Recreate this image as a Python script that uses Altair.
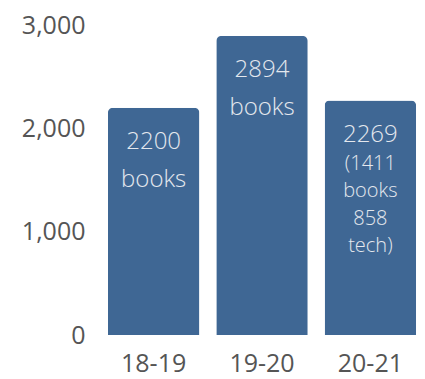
import altair as alt
import pandas as pd

years = ["18-19", "19-20", "20-21"]
totals = [2200, 2894, 2269]
first_lines = ["2200", "2894", "2269"]
second_lines = ["books", "books", ""]
detail_lines = ["", "", "(1411\nbooks\n858\ntech)"]

df = pd.DataFrame({
    "year": years,
    "total": totals,
    "first": first_lines,
    "second": second_lines,
    "detail": detail_lines,
})

BAR = "#3f6794"
TXT = "#e4e8ee"
FONT = "Open Sans"

x_enc = alt.X(
    "year:N",
    sort=years,
    title=None,
    scale=alt.Scale(paddingInner=0.156, paddingOuter=0.073),
    axis=alt.Axis(labelAngle=0, ticks=False, domain=False, labelPadding=16,
                  labelFontSize=25, labelColor="#555555", labelFont=FONT),
)
y_enc = alt.Y(
    "total:Q",
    title=None,
    scale=alt.Scale(domain=[0, 3000], nice=False),
    axis=alt.Axis(values=[0, 1000, 2000, 3000], format=",d", grid=False,
                  ticks=False, domain=False, labelPadding=15,
                  labelFontSize=25, labelColor="#555555", labelFont=FONT),
)

base = alt.Chart(df)

bars = base.mark_bar(color=BAR, cornerRadiusTopLeft=5,
                     cornerRadiusTopRight=5).encode(x=x_enc, y=y_enc)

t1 = base.mark_text(font=FONT, fontSize=24, fontWeight=300, color=TXT,
                    baseline="alphabetic", dy=41).encode(
    x=alt.X("year:N", sort=years), y="total:Q", text="first:N")

t2 = base.mark_text(font=FONT, fontSize=24, fontWeight=300, color=TXT,
                    baseline="alphabetic", dy=79).encode(
    x=alt.X("year:N", sort=years), y="total:Q", text="second:N")

t3 = base.mark_text(font=FONT, fontSize=20, fontWeight=300, color=TXT,
                    baseline="alphabetic", dy=69, lineBreak="\n",
                    lineHeight=27.5).encode(
    x=alt.X("year:N", sort=years), y="total:Q", text="detail:N")

chart = alt.layer(bars, t1, t2, t3).properties(
    width=324, height=310,
    autosize=alt.AutoSizeParams(type="none"),
    padding={"left": 100, "top": 25, "right": 1, "bottom": 44},
    background="white",
).configure_view(stroke=None)

chart.save("out.html", embed_options={"renderer": "svg", "actions": False})
